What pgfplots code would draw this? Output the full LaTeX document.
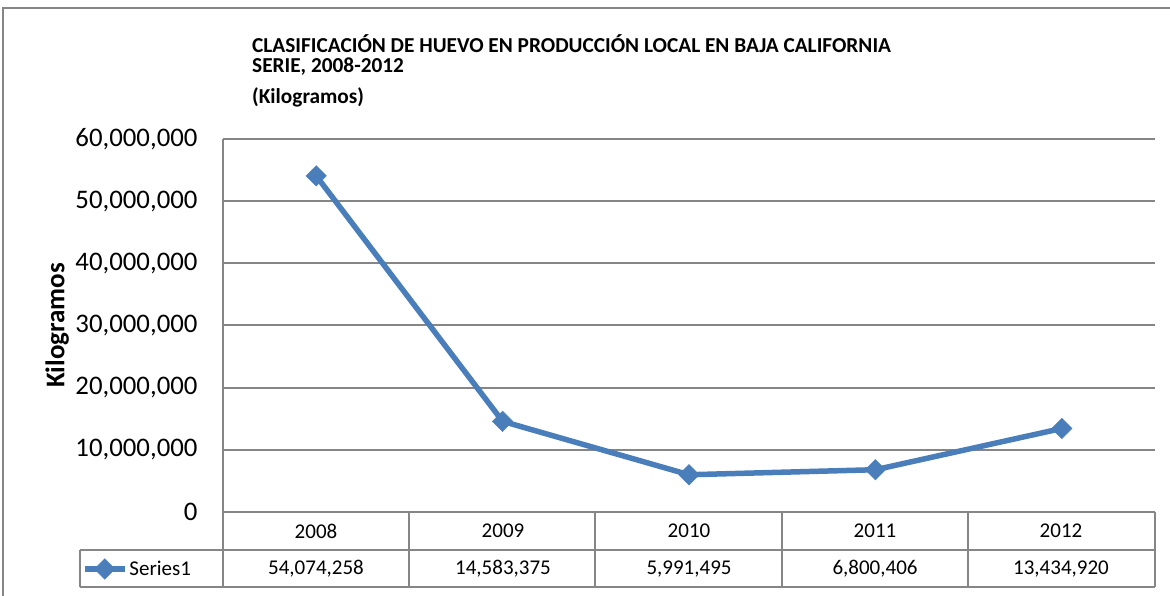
\documentclass[border=0pt]{standalone}
\usepackage{fontspec}
\setmainfont{Carlito}
\usepackage{pgfplots}
\pgfplotsset{compat=1.18}
\definecolor{serie}{RGB}{74,126,187}
\definecolor{gridc}{RGB}{134,134,134}
\begin{document}
\begin{tikzpicture}[x=1pt,y=1pt]
\path[use as bounding box] (0,0) rectangle (1170,596);
\draw[gridc, line width=2pt] (3,0) -- (3,588) -- (1170,588);
% title
\node[anchor=west, font=\bfseries\fontsize{21.3}{25}\selectfont, inner sep=0pt] at (252,552) {CLASIFICACIÓN DE HUEVO EN PRODUCCIÓN LOCAL EN BAJA CALIFORNIA};
\node[anchor=west, font=\bfseries\fontsize{21.3}{25}\selectfont, inner sep=0pt] at (252,529) {SERIE, 2008-2012};
\node[anchor=west, font=\bfseries\fontsize{21.3}{25}\selectfont, inner sep=0pt] at (252,499) {(Kilogramos)};
\begin{axis}[
  at={(223pt,84pt)}, anchor=south west,
  scale only axis, width=932pt, height=373pt,
  xmin=-0.5, xmax=4.5, ymin=0, ymax=60000000,
  axis lines=left, axis line style={-, draw=gridc, line width=2pt},
  xtick=\empty,
  ytick={0,10000000,20000000,30000000,40000000,50000000,60000000},
  ymajorgrids, grid style={draw=gridc, line width=2pt},
  major tick length=0pt,
  scaled y ticks=false,
  yticklabel style={font=\fontsize{26.8}{31}\selectfont, anchor=east, xshift=-22pt,
    /pgf/number format/fixed, /pgf/number format/1000 sep={,},
    /pgf/number format/assume math mode=true},
  ylabel={Kilogramos},
  ylabel style={font=\bfseries\fontsize{27}{31}\selectfont, at={(axis description cs:-0.178,0.5)}, anchor=center, rotate=0},
  clip=false,
  legend style={at={(axis description cs:-0.1513,-0.1528)}, anchor=west, draw=none, fill=none,
    font=\fontsize{21}{25}\selectfont, inner sep=0pt, outer sep=0pt},
  legend image code/.code={\draw[mark repeat=2,mark phase=2,#1] plot coordinates {(0pt,0pt)(20pt,0pt)(40pt,0pt)};},
]
\addplot[serie, line width=5.5pt, mark=square*, mark size=7.2pt, mark options={rotate=45, solid, line width=0.5pt}]
  coordinates {(0,54074258)(1,14583375)(2,5991495)(3,6800406)(4,13434920)};
\addlegendentry{Series1}
\end{axis}
% data table
\draw[gridc, line width=2pt] (223,84) -- (1155,84);
\draw[gridc, line width=2pt] (80,46) -- (1155,46);
\draw[gridc, line width=2pt] (80,9) -- (1155,9);
\draw[gridc, line width=2pt] (80,9) -- (80,46);
\foreach \x in {223,409,595,782,968,1155} {\draw[gridc, line width=2pt] (\x,9) -- (\x,84);}
\begin{scope}[every node/.style={font=\fontsize{21}{25}\selectfont}]
\node at (316,65) {2008};
\node at (503,65) {2009};
\node at (689,65) {2010};
\node at (875,65) {2011};
\node at (1061,65) {2012};
\node at (316,27) {54,074,258};
\node at (503,27) {14,583,375};
\node at (689,27) {5,991,495};
\node at (875,27) {6,800,406};
\node at (1061,27) {13,434,920};
\end{scope}
\end{tikzpicture}
\end{document}
